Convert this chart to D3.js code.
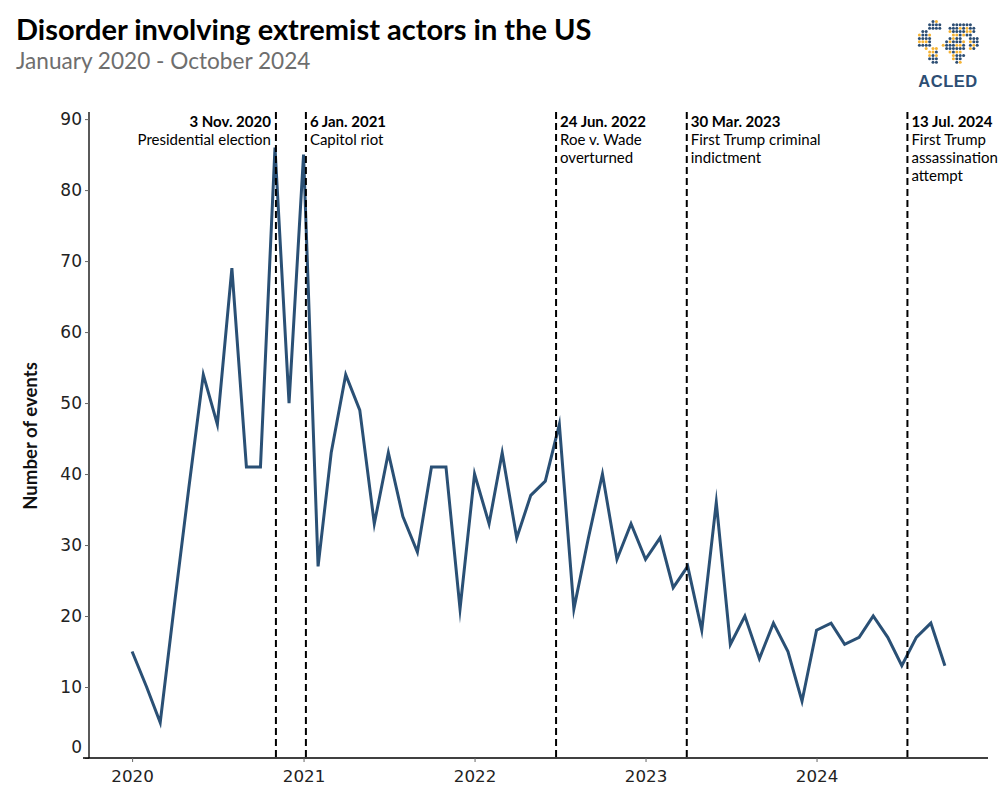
<!DOCTYPE html>
<html>
<head>
<meta charset="utf-8">
<script src="https://cdn.jsdelivr.net/npm/d3@7"></script>
<style>
  html, body { margin: 0; padding: 0; background: #fff; }
  svg { display: block; }
</style>
</head>
<body>
<svg id="chart" width="1000" height="800"></svg>
<script>
// ---------- data ----------
const months = [
  "2020-01","2020-02","2020-03","2020-04","2020-05","2020-06","2020-07","2020-08","2020-09","2020-10","2020-11","2020-12",
  "2021-01","2021-02","2021-03","2021-04","2021-05","2021-06","2021-07","2021-08","2021-09","2021-10","2021-11","2021-12",
  "2022-01","2022-02","2022-03","2022-04","2022-05","2022-06","2022-07","2022-08","2022-09","2022-10","2022-11","2022-12",
  "2023-01","2023-02","2023-03","2023-04","2023-05","2023-06","2023-07","2023-08","2023-09","2023-10","2023-11","2023-12",
  "2024-01","2024-02","2024-03","2024-04","2024-05","2024-06","2024-07","2024-08","2024-09","2024-10"
];
const events = [
  15,10,5,22,38,54,47,69,41,41,86,50,
  85,27,43,54,49,33,43,34,29,41,41,21,
  40,33,43,31,37,39,47,21,31,40,28,33,
  28,31,24,27,18,36,16,20,14,19,15,8,
  18,19,16,17,20,17,13,17,19,13
];
const annotationDates = ["2020-11-03","2021-01-06","2022-06-24","2023-03-30","2024-07-13"];
const annotationTitles = ["3 Nov. 2020","6 Jan. 2021","24 Jun. 2022","30 Mar. 2023","13 Jul. 2024"];
const annotationTexts = [
  ["Presidential election"],
  ["Capitol riot"],
  ["Roe v. Wade","overturned"],
  ["First Trump criminal","indictment"],
  ["First Trump","assassination","attempt"]
];
const annotationSide = ["left","right","right","right","right"];
const yTicks = [0,10,20,30,40,50,60,70,80,90];
const xTickYears = ["2020","2021","2022","2023","2024"];

// ---------- setup ----------
const svg = d3.select("#chart");
const parseMonth = d3.timeParse("%Y-%m");
const parseDay = d3.timeParse("%Y-%m-%d");
const parseYear = d3.timeParse("%Y");
const data = months.map((m, i) => ({ date: parseMonth(m), value: events[i] }));

const mLeft = 89, mRight = 988, mTop = 112, mBottom = 758;
const x = d3.scaleTime()
  .domain([parseDay("2019-10-01"), parseDay("2025-01-01")])
  .range([mLeft, mRight]);
const y = d3.scaleLinear().domain([0, 91]).range([mBottom, mTop]);

const tickFont = "'DejaVu Sans', sans-serif";
const lato = "Lato, 'Open Sans', sans-serif";

// Title
svg.append("text").attr("x", 16).attr("y", 40)
  .attr("font-family", lato).attr("font-weight", 700).attr("font-size", 29)
  .attr("fill", "#000").text("Disorder involving extremist actors in the US");
svg.append("text").attr("x", 16).attr("y", 68.5)
  .attr("font-family", lato).attr("font-size", 22.6)
  .attr("fill", "#6e6e6e").text("January 2020 - October 2024");

// Y axis
const yAxis = d3.axisLeft(y).tickValues(yTicks).tickSize(4).tickPadding(3);
const gy = svg.append("g").attr("transform", `translate(${mLeft},0)`).call(yAxis);
gy.select(".domain").attr("stroke", "#000").attr("stroke-width", 1.3)
  .attr("d", `M0,${mTop}V${mBottom}`);
gy.selectAll(".tick line").attr("stroke", "#666");
gy.selectAll(".tick text").attr("font-family", tickFont).attr("font-size", 17).attr("fill", "#222");
// bottom label sits slightly above the baseline, as in the reference
gy.selectAll(".tick text").filter(d => d === 0).attr("dy", "-0.3em");

// X axis
const xAxis = d3.axisBottom(x).tickValues(xTickYears.map(parseYear))
  .tickFormat(d3.timeFormat("%Y")).tickSize(4).tickPadding(8);
const gx = svg.append("g").attr("transform", `translate(0,${mBottom})`).call(xAxis);
gx.select(".domain").attr("stroke", "#000").attr("stroke-width", 1.3)
  .attr("d", `M${mLeft - 6},0H${mRight}`);
gx.selectAll(".tick line").attr("stroke", "#666");
gx.selectAll(".tick text").attr("font-family", tickFont).attr("font-size", 16.7).attr("fill", "#222");

// Y label
svg.append("text")
  .attr("transform", `translate(37,${436}) rotate(-90)`)
  .attr("text-anchor", "middle")
  .attr("font-family", lato).attr("font-weight", 700).attr("font-size", 18.6)
  .attr("fill", "#111").text("Number of events");

// Line
svg.append("path").datum(data)
  .attr("fill", "none").attr("stroke", "#2a5075").attr("stroke-width", 3)
  .attr("stroke-linejoin", "miter").attr("stroke-miterlimit", 10)
  .attr("d", d3.line().x(d => x(d.date)).y(d => y(d.value)));

// Annotations
annotationDates.forEach((ds, i) => {
  const xv = x(parseDay(ds));
  svg.append("line")
    .attr("x1", xv).attr("x2", xv).attr("y1", mTop).attr("y2", mBottom)
    .attr("stroke", "#000").attr("stroke-width", 2).attr("stroke-dasharray", "7,4");
  const isLeft = annotationSide[i] === "left";
  const tx = isLeft ? xv - 5 : xv + 4;
  const anchor = isLeft ? "end" : "start";
  svg.append("text").attr("x", tx).attr("y", 127)
    .attr("text-anchor", anchor)
    .attr("font-family", lato).attr("font-weight", 700).attr("font-size", 15)
    .attr("fill", "#000").text(annotationTitles[i]);
  annotationTexts[i].forEach((t, j) => {
    svg.append("text").attr("x", tx).attr("y", 145 + j * 18)
      .attr("text-anchor", anchor)
      .attr("font-family", lato).attr("font-size", 15)
      .attr("fill", "#000").text(t);
  });
});

// ACLED logo (decorative)
const logo = svg.append("g").attr("transform", "translate(916,18)");
const blobs = [
  {cx: 18, cy: 8, rx: 7, ry: 5},
  {cx: 9, cy: 22, rx: 7, ry: 9},
  {cx: 18, cy: 38, rx: 5, ry: 9},
  {cx: 46, cy: 12, rx: 15, ry: 8},
  {cx: 38, cy: 27, rx: 11, ry: 8},
  {cx: 42, cy: 38, rx: 6, ry: 7},
  {cx: 57, cy: 25, rx: 6, ry: 7}
];
const dotPts = [];
for (let gx2 = 0; gx2 <= 66; gx2 += 3.4) {
  for (let gy2 = 0; gy2 <= 48; gy2 += 3.4) {
    const inside = blobs.some(b => ((gx2 - b.cx) / b.rx) ** 2 + ((gy2 - b.cy) / b.ry) ** 2 <= 1);
    if (inside) dotPts.push([gx2, gy2]);
  }
}
logo.selectAll("circle").data(dotPts).enter().append("circle")
  .attr("cx", d => d[0]).attr("cy", d => d[1]).attr("r", 1.5)
  .attr("fill", (d, i) => (i % 5 === 2 || i % 7 === 0) ? "#f5b335" : "#2d4e73");
svg.append("text").attr("x", 948).attr("y", 87).attr("text-anchor", "middle")
  .attr("font-family", "'Liberation Sans', Arial, sans-serif").attr("font-size", 16.5)
  .attr("font-weight", 700)
  .attr("letter-spacing", 0.5).attr("fill", "#2d4e73").text("ACLED");
</script>
</body>
</html>
